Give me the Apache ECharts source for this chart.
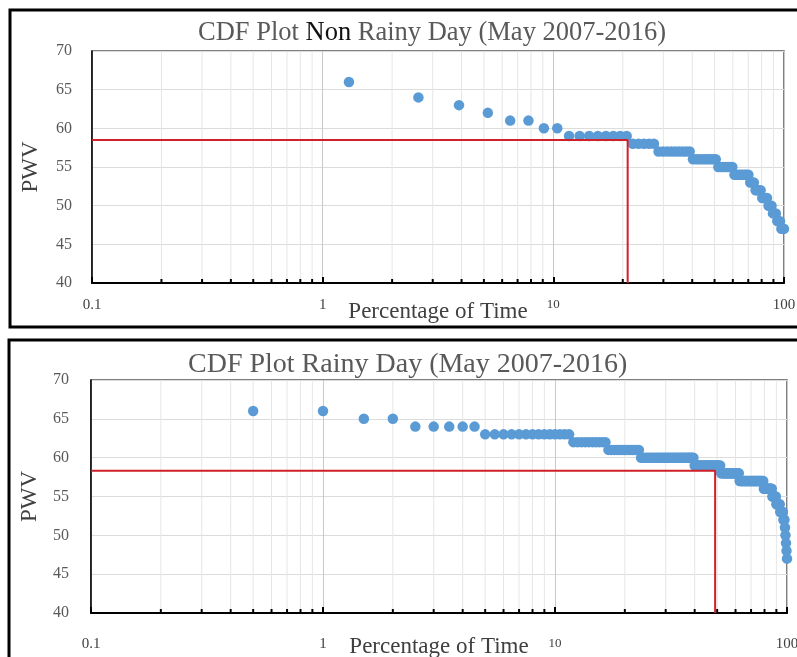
<!DOCTYPE html>
<html><head><meta charset="utf-8">
<script src="https://cdn.jsdelivr.net/npm/echarts@6/dist/echarts.min.js"></script>
<style>html,body{margin:0;padding:0;background:#fff}#c{width:797px;height:657px}</style>
</head><body><div id="c"></div>
<script>
// ---------- data ----------
const yMin = 40, yMax = 70, yStep = 5;
const xMin = 0.1, xMax = 100;
const minorX = [0.2,0.3,0.4,0.5,0.6,0.7,0.8,0.9, 2,3,4,5,6,7,8,9, 20,30,40,50,60,70,80,90];

const nonRainyTitle = ['CDF Plot ', 'Non', ' Rainy Day (May 2007-2016)'];
const rainyTitle = 'CDF Plot Rainy Day (May 2007-2016)';
const xName = 'Percentage of Time';
const yName = 'PWV';

const nonRainyPct = [1.3,2.6,3.9,5.2,6.5,7.8,9.1,10.4,11.7,13.0,
  14.3,15.6,16.9,18.2,19.5,20.8,22.1,23.4,24.7,26.0,
  27.3,28.6,29.9,31.2,32.5,33.8,35.1,36.4,37.7,39.0,
  40.3,41.6,42.9,44.2,45.5,46.8,48.1,49.4,50.6,51.9,
  53.2,54.5,55.8,57.1,58.4,59.7,61.0,62.3,63.6,64.9,
  66.2,67.5,68.8,70.1,71.4,72.7,74.0,75.3,76.6,77.9,
  79.2,80.5,81.8,83.1,84.4,85.7,87.0,88.3,89.6,90.9,
  92.2,93.5,94.8,96.1,97.4,98.7,100];
const nonRainyPwv = [66,64,63,62,61,61,60,60,
  59,59,59,59,59,59,59,59,
  58,58,58,58,58,
  57,57,57,57,57,57,57,57,57,
  56,56,56,56,56,56,56,56,56,
  55,55,55,55,55,55,55,
  54,54,54,54,54,54,54,54,
  53,53,53, 52,52,52,52, 51,51,51,51, 50,50,50, 49,49,49, 48,48,48, 47,47,47];
const nonRainyRefLine = [[0.1,58.5],[21,58.5],[21,40]];

const rainyPct = [0.5,1,1.5,2,2.5,3,3.5,4,4.5,5,5.5,6,6.5,7,7.5,8,8.5,9,9.5,10,
  10.5,11,11.5,12,12.5,13,13.5,14,14.5,15,15.5,16,16.5,17,17.5,18,18.5,19,19.5,20,
  20.5,21,21.5,22,22.5,23,23.5,24,24.5,25,25.5,26,26.5,27,27.5,28,28.5,29,29.5,30,
  30.5,31,31.5,32,32.5,33,33.5,34,34.5,35,35.5,36,36.5,37,37.5,38,38.5,39,39.5,40,
  40.5,41,41.5,42,42.5,43,43.5,44,44.5,45,45.5,46,46.5,47,47.5,48,48.5,49,49.5,50,
  50.5,51,51.5,52,52.5,53,53.5,54,54.5,55,55.5,56,56.5,57,57.5,58,58.5,59,59.5,60,
  60.5,61,61.5,62,62.5,63,63.5,64,64.5,65,65.5,66,66.5,67,67.5,68,68.5,69,69.5,70,
  70.5,71,71.5,72,72.5,73,73.5,74,74.5,75,75.5,76,76.5,77,77.5,78,78.5,79,79.5,80,
  80.5,81,81.5,82,82.5,83,83.5,84,84.5,85,85.5,86,86.5,87,87.5,88,88.5,89,89.5,90,
  90.5,91,91.5,92,92.5,93,93.5,94,94.5,95,95.5,96,96.5,97,97.5,98,98.5,99,99.5,100];
const rainyPwv = [66,66, 65,65, 64,64,64,64,64,
  63,63,63,63,63,63,63,63,63,63,63,63,63,63,
  62,62,62,62,62,62,62,62,62,62,
  61,61,61,61,61,61,61,61,61,61,61,61,61,
  60,60,60,60,60,60,60,60,60,60,60,60,60,60,60,60,60,60,60,60,60,60,60,60,60,60,60,60,60,60,60,60,60,
  59,59,59,59,59,59,59,59,59,59,59,59,59,59,59,59,59,59,59,59,59,59,59,59,
  58,58,58,58,58,58,58,58,58,58,58,58,58,58,58,58,58,58,58,58,58,
  57,57,57,57,57,57,57,57,57,57,57,57,57,57,57,57,57,57,57,57,57,57,57,57,57,57,57,57,57,57,57,57,57,57,
  56,56,56,56,56,56,56,56,56,56,56,56,56,56,
  55,55,55,55,55,55,55,
  54,54,54,54,54,54,54,
  53,53,53,53,53,53,
  52,52,52, 51, 50, 49, 48, 47];
const rainyRefLine = [[0.1,58.3],[49,58.3],[49,40]];

// ---------- chart ----------
const SERIF = 'Liberation Serif';
const dotColor = '#5B9BD5';
const redColor = '#D0202A';
const chart = echarts.init(document.getElementById('c'));

function zip(a, b) { return a.map((v, i) => [v, b[i]]); }

function xAxisCfg(gridIndex, labelMargin, nameGap) {
  return {
    type: 'log', logBase: 10, gridIndex, min: xMin, max: xMax,
    name: xName, nameLocation: 'middle', nameGap, nameMoveOverlap: false,
    nameTextStyle: { fontFamily: SERIF, fontSize: 23, color: '#404040' },
    axisLine: { show: true, lineStyle: { color: '#000', width: 2 } },
    axisTick: { show: true, inside: true, length: 6, lineStyle: { color: '#000', width: 2 } },
    axisLabel: {
      margin: labelMargin, fontFamily: SERIF, fontSize: 15, color: '#404040',
      formatter: v => {
        const s = String(+Number(v).toPrecision(3));
        return s === '10' ? '{s|10}' : s;
      },
      rich: { s: { fontFamily: SERIF, fontSize: 13, color: '#404040', padding: [0,0,4,0] } }
    },
    splitLine: { show: true, lineStyle: { color: '#c9c9c9', width: 1 } }
  };
}
function yAxisCfg(gridIndex, labelMargin) {
  return {
    type: 'value', gridIndex, min: yMin, max: yMax, interval: yStep,
    name: yName, nameLocation: 'middle', nameRotate: 90, nameGap: 50, nameMoveOverlap: false,
    nameTextStyle: { fontFamily: SERIF, fontSize: 23, color: '#404040' },
    axisLine: { show: true, lineStyle: { color: '#000', width: 1.5 } },
    axisTick: { show: false },
    axisLabel: { margin: labelMargin, fontFamily: SERIF, fontSize: 16, color: '#595959' },
    splitLine: { show: true, lineStyle: { color: '#dcdcdc', width: 1 } }
  };
}
function minorSeries(idx) {
  return {
    type: 'custom', xAxisIndex: idx, yAxisIndex: idx, z: 1, silent: true,
    data: minorX.map(v => [v, yMin]),
    encode: { x: 0, y: 1 },
    renderItem: (params, api) => {
      const x = api.value(0);
      const top = api.coord([x, yMax]);
      const bot = api.coord([x, yMin]);
      return { type: 'group', children: [
        { type: 'line', shape: { x1: top[0], y1: top[1], x2: bot[0], y2: bot[1] },
          style: { stroke: '#e6e6e6', lineWidth: 1 } },
        { type: 'line', shape: { x1: bot[0], y1: bot[1], x2: bot[0], y2: bot[1] - 4 },
          style: { stroke: '#000', lineWidth: 2 } }
      ]};
    }
  };
}
function scatterSeries(idx, pct, pwv) {
  return { type: 'scatter', xAxisIndex: idx, yAxisIndex: idx, z: 3, silent: true,
    symbolSize: 10.5, itemStyle: { color: dotColor, opacity: 1 }, data: zip(pct, pwv) };
}
function refSeries(idx, pts) {
  return { type: 'line', xAxisIndex: idx, yAxisIndex: idx, z: 4, silent: true,
    symbol: 'none', lineStyle: { color: redColor, width: 2 }, data: pts };
}

chart.setOption({
  animation: false,
  backgroundColor: '#fff',
  title: [
    { text: '{a|' + nonRainyTitle[0] + '}{b|' + nonRainyTitle[1] + '}{a|' + nonRainyTitle[2] + '}',
      left: 198, top: 20, padding: 0,
      textStyle: { fontWeight: 'normal', rich: {
        a: { fontFamily: SERIF, fontSize: 26.5, color: '#595959', fontWeight: 'normal' },
        b: { fontFamily: SERIF, fontSize: 26.5, color: '#111111', fontWeight: 'normal' } } } },
    { text: rainyTitle, left: 188, top: 351, padding: 0,
      textStyle: { fontFamily: SERIF, fontSize: 28, fontWeight: 'normal', color: '#595959' } }
  ],
  grid: [
    { left: 92, top: 51, width: 692, height: 232, show: true, borderColor: '#555', borderWidth: 1.5,
      backgroundColor: 'transparent', outerBoundsMode: 'none', containLabel: false },
    { left: 91, top: 380, width: 696, height: 233, show: true, borderColor: '#555', borderWidth: 1.5,
      backgroundColor: 'transparent', outerBoundsMode: 'none', containLabel: false }
  ],
  xAxis: [xAxisCfg(0, 15, 17), xAxisCfg(1, 24, 22)],
  yAxis: [yAxisCfg(0, 20), yAxisCfg(1, 22)],
  series: [
    minorSeries(0), minorSeries(1),
    scatterSeries(0, nonRainyPct, nonRainyPwv),
    scatterSeries(1, rainyPct, rainyPwv),
    refSeries(0, nonRainyRefLine),
    refSeries(1, rainyRefLine)
  ],
  graphic: [
    { type: 'rect', silent: true, shape: { x: 10, y: 10, width: 795, height: 317 },
      style: { fill: 'none', stroke: '#000', lineWidth: 3 }, z: 10 },
    { type: 'rect', silent: true, shape: { x: 9, y: 340, width: 796, height: 340 },
      style: { fill: 'none', stroke: '#000', lineWidth: 3 }, z: 10 }
  ]
});
</script></body></html>
